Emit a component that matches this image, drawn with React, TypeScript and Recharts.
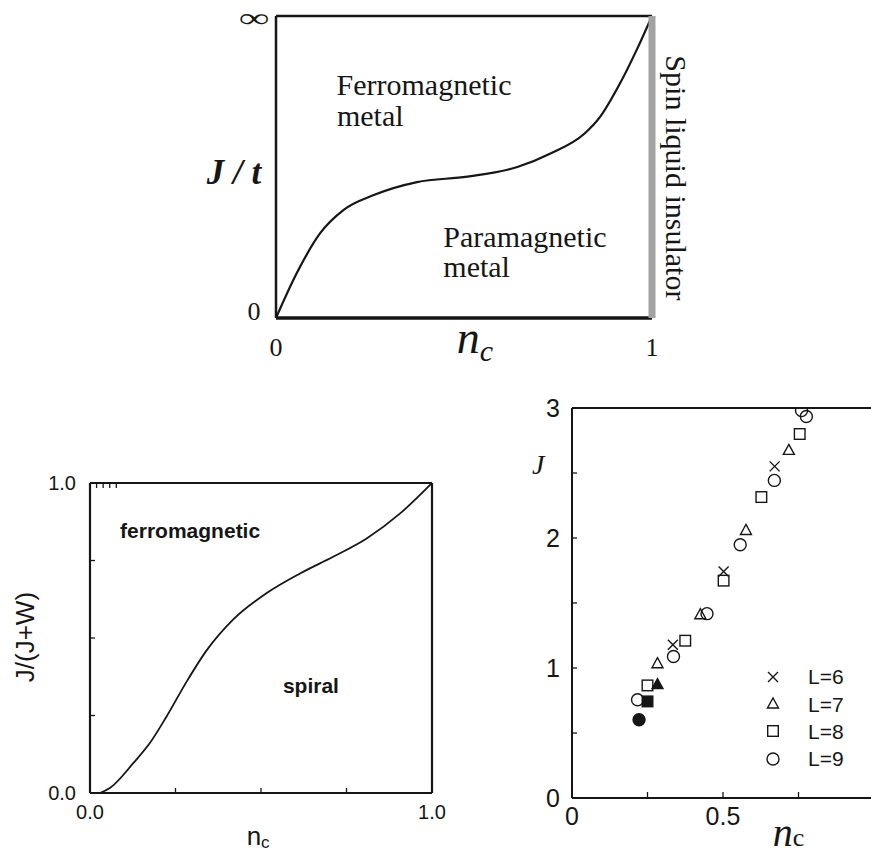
import React from 'react';
import { LineChart, Line, ScatterChart, Scatter, XAxis, YAxis, ReferenceDot, Legend } from 'recharts';

// top panel: phase boundary J/t vs n_c (J/t axis compactified, 1 = infinity)
const topNc = [0, 0.055, 0.117, 0.18, 0.26, 0.375, 0.509, 0.642, 0.73, 0.82, 0.862, 0.915, 0.959, 1];
const topJ = [0, 0.148, 0.28, 0.358, 0.407, 0.45, 0.468, 0.5, 0.545, 0.61, 0.666, 0.777, 0.887, 1];

// bottom left: J/(J+W) boundary
const leftNc = [0.029, 0.058, 0.127, 0.175, 0.224, 0.283, 0.341, 0.419, 0.517, 0.614, 0.711, 0.809, 0.906, 1];
const leftJ = [0, 0.016, 0.097, 0.161, 0.247, 0.36, 0.46, 0.56, 0.645, 0.708, 0.762, 0.821, 0.901, 1];

// bottom right: critical J for several system sizes L
const l6Nc = [0.334, 0.502, 0.671];
const l6J = [1.179, 1.743, 2.551];
const l7Nc = [0.283, 0.425, 0.576, 0.718];
const l7J = [1.033, 1.41, 2.058, 2.674];
const l8Nc = [0.25, 0.375, 0.502, 0.627, 0.754];
const l8J = [0.866, 1.21, 1.672, 2.315, 2.8];
const l9Nc = [0.217, 0.336, 0.447, 0.557, 0.67, 0.76, 0.776];
const l9J = [0.756, 1.089, 1.418, 1.948, 2.443, 2.98, 2.935];
// filled symbols
const l7FilledNc = [0.283];
const l7FilledJ = [0.872];
const l8FilledNc = [0.25];
const l8FilledJ = [0.743];
const l9FilledNc = [0.222];
const l9FilledJ = [0.602];

const topTicks = [0, 1];
const quarterTicks = [0, 0.25, 0.5, 0.75, 1];
const halfTicks = [0, 0.5, 1, 1.5, 2, 2.5, 3];

const INK = '#161616';
const SERIF = '"Liberation Serif", "Times New Roman", serif';
const SANS = '"Liberation Sans", Arial, sans-serif';

const zip = (xs: number[], ys: number[]) => xs.map((x, i) => ({ x, y: ys[i] }));

type Kind = 'x' | 'tri' | 'sq' | 'circ';

function marker(kind: Kind, filled: boolean, cx: number, cy: number) {
  const fill = filled ? INK : 'none';
  const sw = 1.4;
  if (kind === 'x')
    return <path d={`M${cx - 5},${cy - 5}L${cx + 5},${cy + 5}M${cx - 5},${cy + 5}L${cx + 5},${cy - 5}`} stroke={INK} strokeWidth={sw} fill="none" />;
  if (kind === 'tri')
    return <path d={`M${cx},${cy - 6}L${cx + 5.5},${cy + 4}L${cx - 5.5},${cy + 4}Z`} fill={fill} stroke={INK} strokeWidth={sw} />;
  if (kind === 'sq')
    return <rect x={cx - 5.3} y={cy - 5.3} width={10.6} height={10.6} fill={fill} stroke={INK} strokeWidth={sw} />;
  return <circle cx={cx} cy={cy} r={6} fill={fill} stroke={INK} strokeWidth={sw} />;
}

const series: { name: string; kind: Kind; data: { x: number; y: number }[] }[] = [
  { name: 'L=6', kind: 'x', data: zip(l6Nc, l6J) },
  { name: 'L=7', kind: 'tri', data: zip(l7Nc, l7J) },
  { name: 'L=8', kind: 'sq', data: zip(l8Nc, l8J) },
  { name: 'L=9', kind: 'circ', data: zip(l9Nc, l9J) },
];
const filledSeries: { name: string; kind: Kind; data: { x: number; y: number }[] }[] = [
  { name: 'L=7 filled', kind: 'tri', data: zip(l7FilledNc, l7FilledJ) },
  { name: 'L=8 filled', kind: 'sq', data: zip(l8FilledNc, l8FilledJ) },
  { name: 'L=9 filled', kind: 'circ', data: zip(l9FilledNc, l9FilledJ) },
];

type TickOpt = {
  side: 'left' | 'right' | 'top' | 'bottom';
  len: number;
  label?: (v: number) => string | null;
  gap?: number;
  anchor?: 'start' | 'middle' | 'end';
  font?: React.CSSProperties;
  shiftY?: (v: number) => number;
};

// inward tick marks drawn against the frame, labels placed outside
const frameTick = (o: TickOpt) => (props: any) => {
  const { x, y, payload } = props;
  const v = Number(payload.value);
  const d = o.len;
  const x2 = o.side === 'left' ? x + d : o.side === 'right' ? x - d : x;
  const y2 = o.side === 'top' ? y + d : o.side === 'bottom' ? y - d : y;
  const t = o.label ? o.label(v) : null;
  const gap = o.gap ?? 0;
  const tx = o.side === 'left' ? x - gap : o.side === 'right' ? x + gap : x;
  const ty = (o.side === 'bottom' ? y + gap : o.side === 'top' ? y - gap : y) + (o.shiftY ? o.shiftY(v) : 0);
  return (
    <g>
      {d > 0 && <line x1={x} y1={y} x2={x2} y2={y2} stroke={INK} strokeWidth={1.3} />}
      {t != null && (
        <text x={tx} y={ty} textAnchor={o.anchor ?? 'middle'} dominantBaseline="central" style={o.font} fill={INK}>
          {t}
        </text>
      )}
    </g>
  );
};

// free text anchored at a data position
const note = (key: string, x: number, y: number, node: React.ReactNode) => (
  <ReferenceDot
    key={key}
    x={x}
    y={y}
    r={1}
    ifOverflow="visible"
    shape={(p: any) => <g transform={`translate(${p.cx},${p.cy})`}>{node}</g>}
  />
);

function TopPanel() {
  const data = topNc.map((x, i) => ({ x, y: topJ[i] }));
  const serif26 = { fontFamily: SERIF, fontSize: 26 };
  const region = { fontFamily: SERIF, fontSize: 30, fill: INK };
  return (
    <LineChart width={520} height={370} margin={{ top: 15, right: 57, bottom: 12, left: 26 }} data={data}>
      <XAxis
        dataKey="x" type="number" domain={[0, 1]} allowDataOverflow ticks={topTicks} interval={0}
        height={40} tickSize={0} tickMargin={0} tickLine={false}
        axisLine={{ stroke: INK, strokeWidth: 3.5 }}
        tick={frameTick({ side: 'bottom', len: 0, label: (v) => String(v), gap: 29, font: serif26 })}
      />
      <XAxis xAxisId="top" orientation="top" type="number" domain={[0, 1]} height={1} tick={false} tickLine={false} axisLine={{ stroke: INK, strokeWidth: 2.5 }} />
      <YAxis
        type="number" domain={[0, 1]} allowDataOverflow ticks={topTicks} interval={0}
        width={60} tickSize={0} tickMargin={0} tickLine={false}
        axisLine={{ stroke: INK, strokeWidth: 2.5 }}
        tick={frameTick({
          side: 'left', len: 0, gap: 22,
          label: (v) => (v === 0 ? '0' : null),
          font: serif26,
          shiftY: () => -7,
        })}
      />
      <YAxis yAxisId="right" orientation="right" type="number" domain={[0, 1]} width={1} tick={false} tickLine={false} axisLine={{ stroke: '#a2a2a2', strokeWidth: 7 }} />
      <Line dataKey="y" type="monotone" stroke={INK} strokeWidth={2.2} dot={false} isAnimationActive={false} />
      {note('ferro1', 0.161, 0.738, <text style={region}>Ferromagnetic</text>)}
      {note('ferro2', 0.162, 0.636, <text style={region}>metal</text>)}
      {note('para1', 0.445, 0.235, <text style={region}>Paramagnetic</text>)}
      {note('para2', 0.445, 0.136, <text style={region}>metal</text>)}
      {note('spin', 1.064, 0.464, <text transform="rotate(90)" textAnchor="middle" dominantBaseline="central" style={region}>Spin liquid insulator</text>)}
      {note('inf', -0.058, 0.965, (
        <text transform="scale(1.6,1)" textAnchor="middle" style={{ fontFamily: SERIF, fontSize: 27, fill: INK }}>∞</text>
      ))}
      {note('jt', -0.112, 0.444, (
        <text textAnchor="middle" style={{ fontFamily: SERIF, fontSize: 35, fontStyle: 'italic', fontWeight: 700, fill: INK }}>J / t</text>
      ))}
      {note('nc', 0.481, -0.116, (
        <text style={{ fontFamily: SERIF, fontStyle: 'italic', fill: INK }}>
          <tspan fontSize={46}>n</tspan>
          <tspan fontSize={30} dy={8}>c</tspan>
        </text>
      ))}
    </LineChart>
  );
}

function LeftPanel() {
  const data = leftNc.map((x, i) => ({ x, y: leftJ[i] }));
  const lbl = { fontFamily: SANS, fontSize: 20 };
  const edge = (v: number) => (v === 0 ? '0.0' : v === 1 ? '1.0' : null);
  const frame = { stroke: INK, strokeWidth: 2.2 };
  const bold = { fontFamily: SANS, fontSize: 21, fontWeight: 700, fill: INK };
  return (
    <LineChart width={460} height={415} margin={{ top: 42, right: 27, bottom: 22, left: 30 }} data={data}>
      <XAxis
        dataKey="x" type="number" domain={[0, 1]} allowDataOverflow ticks={quarterTicks} interval={0}
        height={40} tickSize={0} tickMargin={0} tickLine={false} axisLine={frame}
        tick={frameTick({ side: 'bottom', len: 5, label: edge, gap: 19, font: lbl })}
      />
      <XAxis
        xAxisId="top" orientation="top" type="number" domain={[0, 1]} ticks={quarterTicks} interval={0}
        height={1} tickSize={0} tickMargin={0} tickLine={false} axisLine={frame}
        tick={frameTick({ side: 'top', len: 5 })}
      />
      <YAxis
        type="number" domain={[0, 1]} allowDataOverflow ticks={quarterTicks} interval={0}
        width={60} tickSize={0} tickMargin={0} tickLine={false} axisLine={frame}
        tick={frameTick({ side: 'left', len: 5, label: edge, gap: 14, anchor: 'end', font: lbl })}
      />
      <YAxis
        yAxisId="right" orientation="right" type="number" domain={[0, 1]} ticks={quarterTicks} interval={0}
        width={1} tickSize={0} tickMargin={0} tickLine={false} axisLine={frame}
        tick={frameTick({ side: 'right', len: 5 })}
      />
      <Line dataKey="y" type="monotone" stroke={INK} strokeWidth={1.8} dot={false} isAnimationActive={false} />
      {note('ferro', 0.088, 0.822, <text style={bold}>ferromagnetic</text>)}
      {note('spiral', 0.564, 0.322, <text style={bold}>spiral</text>)}
      {note('ylab', -0.19, 0.503, (
        <text transform="rotate(-90)" textAnchor="middle" dominantBaseline="central" style={{ fontFamily: SANS, fontSize: 26, fill: INK }}>J/(J+W)</text>
      ))}
      {note('xlab', 0.458, -0.168, (
        <text style={{ fontFamily: SANS, fill: INK }}>
          <tspan fontSize={26}>n</tspan>
          <tspan fontSize={17} dy={3}>c</tspan>
        </text>
      ))}
    </LineChart>
  );
}

function RightPanel() {
  const lbl = { fontFamily: SANS, fontSize: 25 };
  const frame = { stroke: INK, strokeWidth: 2 };
  const yLabel = (v: number) => (Number.isInteger(v) ? String(v) : null);
  const xLabel = (v: number) => (v === 0 ? '0' : v === 0.5 ? '0.5' : null);
  return (
    <ScatterChart width={390} height={475} margin={{ top: 27, right: 15, bottom: 17, left: 22 }}>
      <XAxis
        dataKey="x" type="number" domain={[0, 1]} allowDataOverflow ticks={quarterTicks} interval={0}
        height={40} tickSize={0} tickMargin={0} tickLine={false} axisLine={frame}
        tick={frameTick({ side: 'bottom', len: 6, label: xLabel, gap: 18, font: lbl })}
      />
      <XAxis
        xAxisId="top" orientation="top" type="number" domain={[0, 1]} ticks={quarterTicks} interval={0}
        height={1} tickSize={0} tickMargin={0} tickLine={false} axisLine={frame}
        tick={frameTick({ side: 'top', len: 8 })}
      />
      <YAxis
        dataKey="y" type="number" domain={[0, 3]} allowDataOverflow ticks={halfTicks} interval={0}
        width={50} tickSize={0} tickMargin={0} tickLine={false} axisLine={frame}
        tick={frameTick({ side: 'left', len: 5, label: yLabel, gap: 19, font: lbl })}
      />
      <YAxis
        yAxisId="right" orientation="right" type="number" domain={[0, 3]} ticks={halfTicks} interval={0}
        width={1} tickSize={0} tickMargin={0} tickLine={false} axisLine={frame}
        tick={frameTick({ side: 'right', len: 8 })}
      />
      {series.map((s) => (
        <Scatter key={s.name} name={s.name} data={s.data} isAnimationActive={false}
          shape={(p: any) => marker(s.kind, false, p.cx, p.cy)} />
      ))}
      {filledSeries.map((s) => (
        <Scatter key={s.name} name={s.name} data={s.data} legendType="none" isAnimationActive={false}
          shape={(p: any) => marker(s.kind, true, p.cx, p.cy)} />
      ))}
      <Legend
        layout="vertical" align="center" verticalAlign="middle"
        wrapperStyle={{ left: 262, top: 283, width: 110 }}
        content={() => (
          <div>
            {series.map((s) => (
              <div key={s.name} style={{ display: 'flex', alignItems: 'center', height: 27.4 }}>
                <svg width={22} height={22}>{marker(s.kind, false, 11, 11)}</svg>
                <span style={{ marginLeft: 24, fontFamily: SANS, fontSize: 21, color: INK, lineHeight: 1 }}>{s.name}</span>
              </div>
            ))}
          </div>
        )}
      />
      {note('jlab', -0.112, 2.495, (
        <text textAnchor="middle" style={{ fontFamily: SERIF, fontSize: 28, fontStyle: 'italic', fill: INK }}>J</text>
      ))}
      {note('nclab', 0.665, -0.373, (
        <text style={{ fontFamily: SERIF, fill: INK }}>
          <tspan fontSize={40} fontStyle="italic">n</tspan>
          <tspan fontSize={26}>c</tspan>
        </text>
      ))}
    </ScatterChart>
  );
}

export default function App() {
  return (
    <div style={{ position: 'fixed', left: 0, top: 0, width: 871, height: 855, overflow: 'hidden', background: '#fff' }}>
      <div style={{ position: 'absolute', left: 190, top: 0 }}>
        <TopPanel />
      </div>
      <div style={{ position: 'absolute', left: 0, top: 440 }}>
        <LeftPanel />
      </div>
      <div style={{ position: 'absolute', left: 500, top: 380 }}>
        <RightPanel />
      </div>
    </div>
  );
}
